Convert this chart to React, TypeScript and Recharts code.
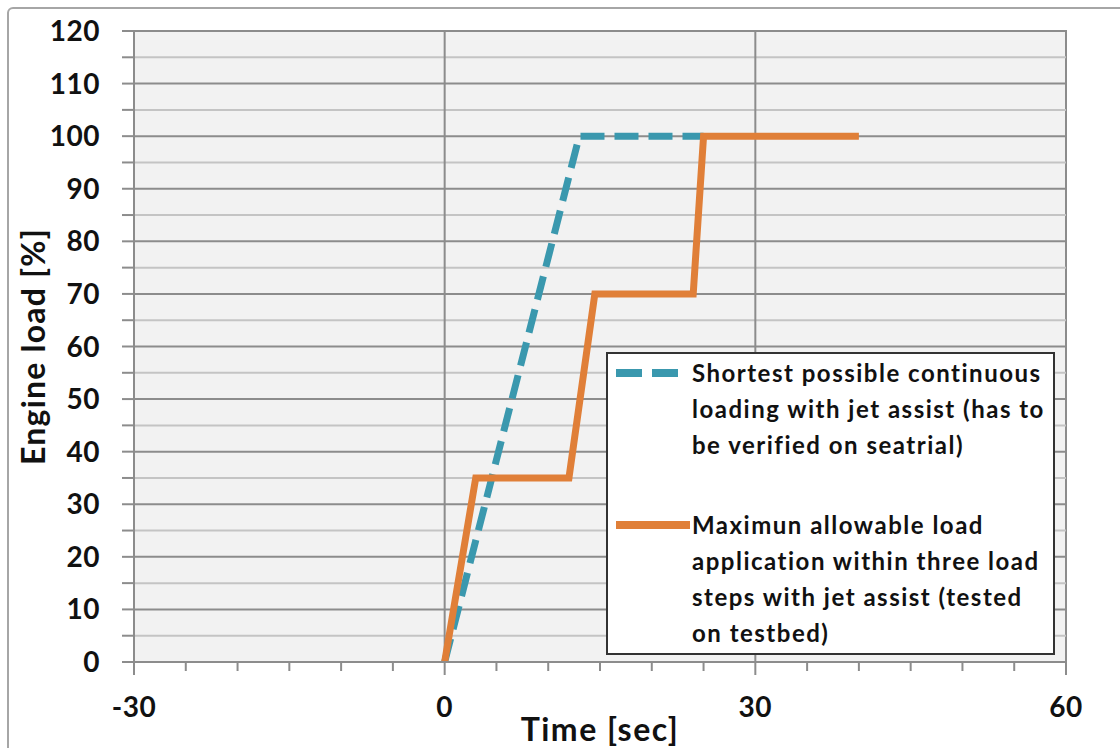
import React from 'react';
import {
    LineChart,
    Line,
    XAxis,
    YAxis,
    ReferenceLine,
    ReferenceArea,
    Legend,
} from 'recharts';

// axis ticks
const xTicks = [-30, -25, -20, -15, -10, -5, 0, 5, 10, 15, 20, 25, 30, 35, 40, 45, 50, 55, 60];
const xLabelTicks = [-30, 0, 30, 60];
const xGridLines = [0, 30];
const yTicks = [0, 5, 10, 15, 20, 25, 30, 35, 40, 45, 50, 55, 60, 65, 70, 75, 80, 85, 90, 95, 100, 105, 110, 115, 120];
const yMajorGrid = [10, 20, 30, 40, 50, 60, 70, 80, 90, 100, 110, 120];
const yMinorGrid = [5, 15, 25, 35, 45, 55, 65, 75, 85, 95, 105, 115];

// series: time [sec] / engine load [%]
const shortestTime = [0, 13, 25];
const shortestLoad = [0, 100, 100];
const maxTime = [0, 3, 12, 14.5, 24, 25, 40];
const maxLoad = [0, 35, 35, 70, 70, 100, 100];

const shortestLabel = ['Shortest possible continuous', 'loading with jet assist (has to', 'be verified on seatrial)'];
const maxLabel = ['Maximun allowable load', 'application within three load', 'steps with jet assist (tested', 'on testbed)'];

const shortestData = shortestTime.map((t, i) => ({ t, load: shortestLoad[i] }));
const maxData = maxTime.map((t, i) => ({ t, load: maxLoad[i] }));

const TEAL = '#3a98ae';
const ORANGE = '#e07f38';
const MAJOR = '#8c8c8c';
const MINOR = '#c4c4c4';
const FONT = 'Lato, "Open Sans", sans-serif';

const YTick = (props: any) => {
    const { x, y, payload } = props;
    if (payload.value % 10 !== 0) return null;
    return (
        <text x={x} y={y} dy={10} textAnchor="end" fontFamily={FONT} fontWeight={700} fontSize={28} letterSpacing={0.5} fill="#111">
            {payload.value}
        </text>
    );
};

const XTick = (props: any) => {
    const { x, y, payload } = props;
    const major = xLabelTicks.includes(payload.value);
    return (
        <g>
            <line x1={x} x2={x} y1={y} y2={y + (major ? 13 : 9)} stroke={MAJOR} strokeWidth={2} />
            {major && (
                <text x={x} y={y + 55} textAnchor="middle" fontFamily={FONT} fontWeight={700} fontSize={28} letterSpacing={0.5} fill="#111">
                    {payload.value}
                </text>
            )}
        </g>
    );
};

const LegendBox = () => {
    const text: React.CSSProperties = {
        position: 'absolute',
        left: 84,
        fontFamily: FONT,
        fontWeight: 700,
        fontSize: 24,
        letterSpacing: 1.5,
        lineHeight: '36px',
        color: '#111',
        whiteSpace: 'nowrap',
    };
    return (
        <div
            style={{
                position: 'relative',
                width: 449,
                height: 303,
                boxSizing: 'border-box',
                background: '#fff',
                border: '2px solid #333',
            }}
        >
            <svg style={{ position: 'absolute', left: 0, top: 0 }} width={84} height={300}>
                <line x1={8} x2={70} y1={19} y2={19} stroke={TEAL} strokeWidth={8} strokeDasharray="26 10" />
                <line x1={8} x2={82} y1={171} y2={171} stroke={ORANGE} strokeWidth={8} />
            </svg>
            <div style={{ ...text, top: 1 }}>
                {shortestLabel.map((l) => (
                    <div key={l}>{l}</div>
                ))}
            </div>
            <div style={{ ...text, top: 153 }}>
                {maxLabel.map((l) => (
                    <div key={l}>{l}</div>
                ))}
            </div>
        </div>
    );
};

export default function App() {
    return (
        <div style={{ position: 'absolute', left: 0, top: 0, width: 1120, height: 748, background: '#fff', overflow: 'hidden' }}>
            <div
                style={{
                    position: 'absolute',
                    left: 7,
                    top: 7,
                    width: 1130,
                    height: 780,
                    border: '2px solid #a6a6a6',
                    borderRadius: 6,
                }}
            />
            <LineChart width={1120} height={748} margin={{ top: 31, right: 54, bottom: 0, left: 0 }}>
                <XAxis
                    type="number"
                    dataKey="t"
                    domain={[-30, 60]}
                    ticks={xTicks}
                    interval={0}
                    height={86}
                    tickLine={false}
                    tickSize={0}
                    tickMargin={0}
                    tick={<XTick />}
                    axisLine={{ stroke: MAJOR, strokeWidth: 2 }}
                    allowDataOverflow
                    label={(p: any) => (
                        <text
                            x={p.viewBox.x + p.viewBox.width / 2}
                            y={p.viewBox.y + 79}
                            textAnchor="middle"
                            fontFamily={FONT}
                            fontWeight={700}
                            fontSize={32}
                            letterSpacing={1.5}
                            fill="#111"
                        >
                            Time [sec]
                        </text>
                    )}
                />
                <YAxis
                    type="number"
                    dataKey="load"
                    domain={[0, 120]}
                    ticks={yTicks}
                    interval={0}
                    width={134}
                    tickSize={12}
                    tickMargin={22}
                    tickLine={{ stroke: MAJOR, strokeWidth: 2 }}
                    tick={<YTick />}
                    axisLine={{ stroke: MAJOR, strokeWidth: 2 }}
                    label={(p: any) => (
                        <text
                            x={45}
                            y={p.viewBox.y + p.viewBox.height / 2}
                            transform={`rotate(-90 45 ${p.viewBox.y + p.viewBox.height / 2})`}
                            textAnchor="middle"
                            fontFamily={FONT}
                            fontWeight={700}
                            fontSize={32}
                            letterSpacing={1.2}
                            fill="#111"
                        >
                            Engine load [%]
                        </text>
                    )}
                />
                <ReferenceArea x1={-30} x2={60} y1={0} y2={120} fill="#f2f2f2" fillOpacity={1} stroke={MAJOR} strokeWidth={2} />
                {yMinorGrid.map((v) => (
                    <ReferenceLine key={'mi' + v} y={v} stroke={MINOR} strokeWidth={2} />
                ))}
                {yMajorGrid.map((v) => (
                    <ReferenceLine key={'ma' + v} y={v} stroke={MAJOR} strokeWidth={2} />
                ))}
                {xGridLines.map((v) => (
                    <ReferenceLine key={'x' + v} x={v} stroke={MAJOR} strokeWidth={2} />
                ))}
                <Line
                    data={shortestData}
                    dataKey="load"
                    name="Shortest possible continuous loading with jet assist (has to be verified on seatrial)"
                    stroke={TEAL}
                    strokeWidth={7}
                    strokeDasharray="24 10"
                    dot={false}
                    isAnimationActive={false}
                />
                <Line
                    data={maxData}
                    dataKey="load"
                    name="Maximun allowable load application within three load steps with jet assist (tested on testbed)"
                    stroke={ORANGE}
                    strokeWidth={7}
                    strokeLinejoin="miter"
                    dot={false}
                    isAnimationActive={false}
                />
                <Legend
                    layout="horizontal"
                    verticalAlign="middle"
                    align="center"
                    wrapperStyle={{ left: 606, top: 352, width: 449, height: 303 }}
                    content={() => <LegendBox />}
                />
            </LineChart>
        </div>
    );
}
